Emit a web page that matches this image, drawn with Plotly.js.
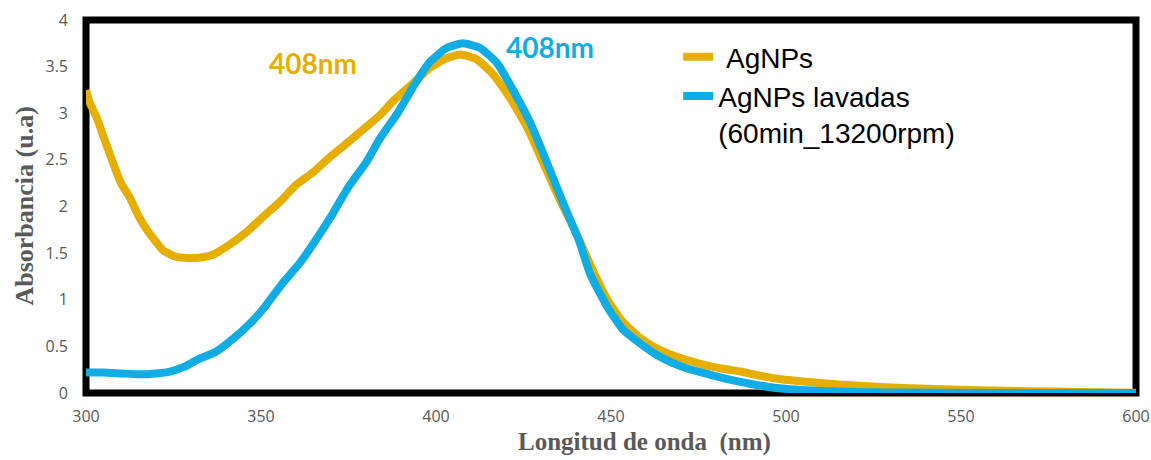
<!DOCTYPE html>
<html>
<head>
<meta charset="utf-8">
<script src="https://cdn.plot.ly/plotly-3.0.1.min.js"></script>
<style>html,body{margin:0;padding:0;background:#fff;}#chart{width:1151px;height:460px;}</style>
</head>
<body>
<div id="chart"></div>
<script>
// Wavelength (nm) and absorbance for AgNPs
const wlAgNPs = [300,301,303,305,307.7,310,312.6,315,317.4,320,322,325,328,332,336,341,346,350.6,355.4,360,365,369.7,374.6,379,384,388,393.4,398,403,407,411.6,416,421,426,430.6,435.4,440,445,449,453,458,463,468,473,477,482,487,492,498,506,515,527,540,555,570,584,600];
const absAgNPs = [3.25,3.12,2.96,2.75,2.47,2.25,2.09,1.90,1.75,1.62,1.53,1.47,1.45,1.45,1.48,1.59,1.73,1.89,2.05,2.23,2.37,2.53,2.68,2.82,2.98,3.14,3.32,3.48,3.59,3.63,3.58,3.43,3.17,2.85,2.47,2.07,1.72,1.30,1.00,0.78,0.60,0.48,0.40,0.34,0.30,0.26,0.23,0.19,0.15,0.12,0.09,0.065,0.045,0.03,0.02,0.01,0.003];

// Wavelength (nm) and absorbance for washed AgNPs
const wlLavadas = [300,305,310,315,320,324,328,332,337,342,347,351,356,361,366,370.6,375,380,384,389,393.4,398,403,407.7,412.6,417.4,422,426.9,431.7,436.3,441,444,449,453.4,458,463,467.7,472,477,482,487,496,506,515,530,560,600];
const absLavadas = [0.22,0.22,0.21,0.20,0.21,0.23,0.28,0.36,0.44,0.58,0.75,0.92,1.17,1.39,1.66,1.93,2.21,2.47,2.73,3.00,3.28,3.54,3.70,3.75,3.70,3.54,3.25,2.90,2.47,2.04,1.62,1.28,0.92,0.68,0.54,0.41,0.32,0.26,0.21,0.16,0.12,0.06,0.03,0.015,0.005,0,0];

const seriesNames = ['\u00A0AgNPs', 'AgNPs lavadas<br>(60min_13200rpm)'];
const peakLabels = ['408nm', '408nm'];
const xTicks = [300,350,400,450,500,550,600];
const yTicks = [0,0.5,1,1.5,2,2.5,3,3.5,4];

const gold = '#E6AF00';
const blue = '#0FADE3';
const gray = '#595959';

const traces = [
  {x: wlAgNPs, y: absAgNPs, name: seriesNames[0], mode: 'lines', type: 'scatter',
   line: {color: gold, width: 8, shape: 'spline', smoothing: 0.5}},
  {x: wlLavadas, y: absLavadas, name: seriesNames[1], mode: 'lines', type: 'scatter',
   line: {color: blue, width: 8, shape: 'spline', smoothing: 0.5}}
];

const layout = {
  width: 1151, height: 460,
  margin: {l: 86, r: 15, t: 20, b: 67},
  paper_bgcolor: '#fff', plot_bgcolor: '#fff',
  showlegend: true,
  legend: {x: 0.564, y: 0.968, xanchor: 'left', yanchor: 'top', valign: 'top',
           bgcolor: 'rgba(0,0,0,0)', font: {family: 'Liberation Sans, Arial, sans-serif', size: 28, color: '#000'},
           tracegroupgap: 0},
  xaxis: {range: [300, 600], tickvals: xTicks, ticks: '', showgrid: false, zeroline: false,
          showline: false, ticklabelstandoff: 12,
          tickfont: {family: 'Open Sans, sans-serif', size: 16, color: gray}},
  yaxis: {range: [0, 4], tickvals: yTicks, ticks: '', showgrid: false, zeroline: false,
          showline: false, ticklabelstandoff: 17,
          tickfont: {family: 'Open Sans, sans-serif', size: 16, color: gray}},
  shapes: [{type: 'rect', xref: 'paper', yref: 'paper', x0: 0, x1: 1, y0: 0, y1: 1,
            line: {color: '#000', width: 7}, layer: 'below'}],
  annotations: [
    {text: 'Longitud de onda&nbsp;&nbsp;(nm)', xref: 'paper', yref: 'paper', x: 0.532, y: -0.132,
     xanchor: 'center', yanchor: 'middle', showarrow: false,
     font: {family: 'Liberation Serif, Times New Roman, serif', size: 25, color: gray, weight: 'bold'}},
    {text: 'Absorbancia (u.a)', xref: 'paper', yref: 'paper', x: -0.059, y: 0.5, textangle: -90,
     xanchor: 'center', yanchor: 'middle', showarrow: false,
     font: {family: 'Liberation Serif, Times New Roman, serif', size: 26, color: gray, weight: 'bold'}},
    {text: '<b>' + peakLabels[0] + '</b>', xref: 'x', yref: 'y', x: 364.9, y: 3.54, showarrow: false,
     xanchor: 'center', yanchor: 'middle', font: {family: 'Lato, sans-serif', size: 28, color: gold}},
    {text: '<b>' + peakLabels[1] + '</b>', xref: 'x', yref: 'y', x: 432.6, y: 3.71, showarrow: false,
     xanchor: 'center', yanchor: 'middle', font: {family: 'Lato, sans-serif', size: 28, color: blue}}
  ]
};

Plotly.newPlot('chart', traces, layout, {displayModeBar: false, staticPlot: true});
</script>
</body>
</html>
